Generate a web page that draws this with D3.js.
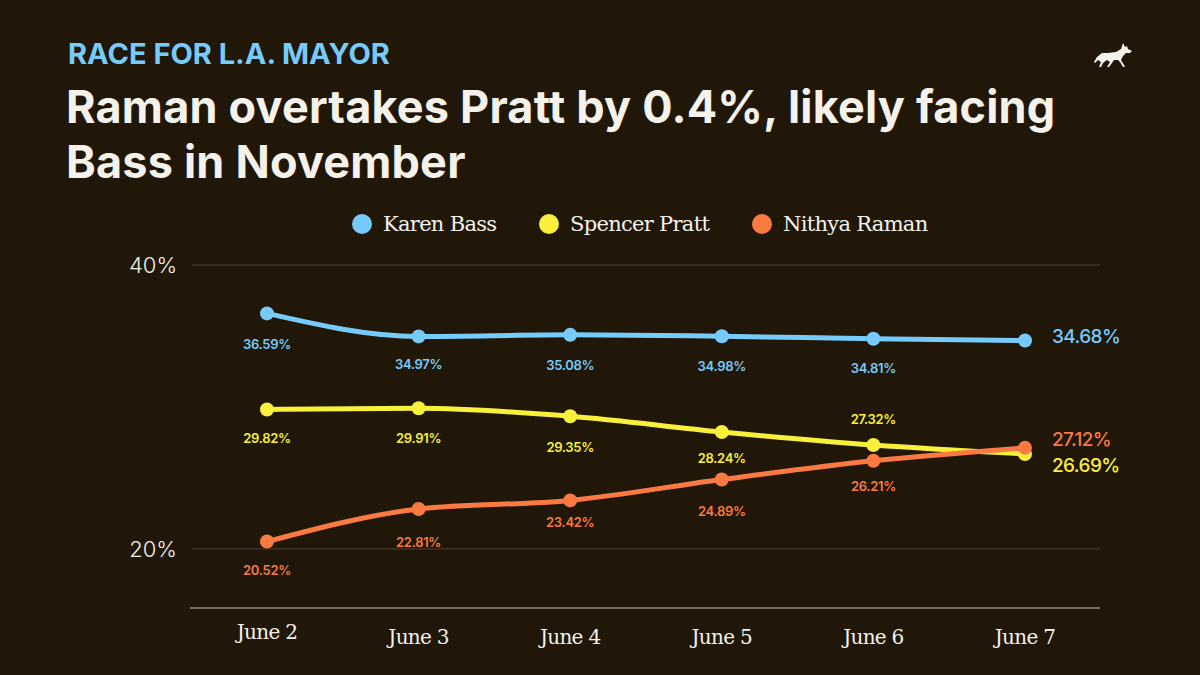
<!DOCTYPE html>
<html>
<head>
<meta charset="utf-8">
<script src="https://cdn.jsdelivr.net/npm/d3@7"></script>
<style>
  body { margin: 0; background: #201708; }
  svg { display: block; }
</style>
</head>
<body>
<div id="chart"></div>
<script>
// data
const dates = ['June 2', 'June 3', 'June 4', 'June 5', 'June 6', 'June 7']
const bass = [36.59, 34.97, 35.08, 34.98, 34.81, 34.68]
const pratt = [29.82, 29.91, 29.35, 28.24, 27.32, 26.69]
const raman = [20.52, 22.81, 23.42, 24.89, 26.21, 27.12]
const candidates = ['Karen Bass', 'Spencer Pratt', 'Nithya Raman']
const yTicks = [20, 40]

const colors = ['#76cbfb', '#f8f03a', '#fb7a42']
const series = [bass, pratt, raman]

// vertical nudge of each value label from its point (px, baseline)
const labelDy = [
  [36, 33, 35, 35, 34],
  [33, 35, 36, 31, -21],
  [33, 38, 27, 36, 30]
]
const endDy = [2, 18, -2]

const width = 1200, height = 675

const svg = d3.select('#chart').append('svg')
  .attr('width', width)
  .attr('height', height)

svg.append('rect').attr('width', width).attr('height', height).attr('fill', '#201708')

svg.append('text')
  .attr('x', 68).attr('y', 64)
  .style('font', '700 29px Inter')
  .attr('fill', '#76cbfb')
  .text('RACE FOR L.A. MAYOR')

// headline
const headline = ['Raman overtakes Pratt by 0.4%, likely facing', 'Bass in November']
svg.selectAll('.headline')
  .data(headline)
  .enter()
  .append('text')
  .attr('x', 66)
  .attr('y', (d, i) => 123 + i * 55)
  .style('font', '700 45px Inter')
  .style('letter-spacing', '0.2px')
  .attr('fill', '#f4f2ea')
  .text(d => d)

// little coyote mark, top right
svg.append('path')
  .attr('transform', 'translate(1094,41)')
  .attr('fill', '#f4f2ea')
  .attr('d', 'M29,2 L31,6 L33,5 L34,8 L38,10 L36,12 L32,12 L29,15 L27,19 L30,24 L31,26 L29,26 L26,21 L24,19 L20,19 L18,22 L15,26 L13,26 L16,21 L13,19 L9,22 L7,26 L5,26 L7,21 L4,19 L1,22 L0,21 L3,16 L8,12 L14,12 L22,11 L27,8 Z')

// legend
const legend = svg.append('g')
const legendX = [362, 549, 762]
candidates.forEach((c, i) => {
  legend.append('circle')
    .attr('cx', legendX[i]).attr('cy', 224).attr('r', 10)
    .attr('fill', colors[i])
  legend.append('text')
    .attr('x', legendX[i] + 21).attr('y', 231)
    .style('font', '400 21px "DejaVu Serif"')
    .style('letter-spacing', '-0.7px')
    .attr('fill', '#f4f2ea')
    .text(c)
})

// scales
const x = d3.scalePoint()
  .domain(dates)
  .range([267, 1025])

const y = d3.scaleLinear()
  .domain([15.84, 40])
  .range([608, 265])

// grid
svg.selectAll('.grid')
  .data(yTicks)
  .enter()
  .append('line')
  .attr('x1', 192).attr('x2', 1100)
  .attr('y1', d => y(d)).attr('y2', d => y(d))
  .attr('stroke', '#4b4233')
  .attr('stroke-width', 1)

svg.selectAll('.ytick')
  .data(yTicks)
  .enter()
  .append('text')
  .attr('x', 177)
  .attr('y', d => y(d) + 8)
  .attr('text-anchor', 'end')
  .style('font', '300 22px Inter')
  .attr('fill', '#f4f2ea')
  .text(d => d + '%')

// baseline
svg.append('line')
  .attr('x1', 190).attr('x2', 1100)
  .attr('y1', 608).attr('y2', 608)
  .attr('stroke', '#8d877a')
  .attr('stroke-width', 1.5)

svg.selectAll('.xtick')
  .data(dates)
  .enter()
  .append('text')
  .attr('x', d => x(d))
  .attr('y', (d, i) => i == 0 ? 639 : 644)
  .attr('text-anchor', 'middle')
  .style('font', '400 20px "DejaVu Serif"')
  .style('letter-spacing', '-0.7px')
  .attr('fill', '#f4f2ea')
  .text(d => d)

const line = d3.line()
  .x((d, i) => x(dates[i]))
  .y(d => y(d))
  .curve(d3.curveMonotoneX)

series.forEach((vals, s) => {
  const g = svg.append('g')
  g.append('path')
    .datum(vals)
    .attr('d', line)
    .attr('fill', 'none')
    .attr('stroke', colors[s])
    .attr('stroke-width', 5)
    .attr('stroke-linecap', 'round')

  g.selectAll('circle')
    .data(vals)
    .enter()
    .append('circle')
    .attr('cx', (d, i) => x(dates[i]))
    .attr('cy', d => y(d))
    .attr('r', 7)
    .attr('fill', colors[s])

  g.selectAll('.val')
    .data(vals.slice(0, -1))
    .enter()
    .append('text')
    .attr('x', (d, i) => x(dates[i]))
    .attr('y', (d, i) => y(d) + labelDy[s][i])
    .attr('text-anchor', 'middle')
    .style('font', '600 13px Inter')
    .style('letter-spacing', '-0.3px')
    .attr('fill', colors[s])
    .text(d => d.toFixed(2) + '%')

  const last = vals[vals.length - 1]
  g.append('text')
    .attr('x', 1052)
    .attr('y', y(last) + endDy[s])
    .style('font', '500 19px Inter')
    .style('letter-spacing', '-0.6px')
    .attr('fill', colors[s])
    .text(last.toFixed(2) + '%')
})
</script>
</body>
</html>
